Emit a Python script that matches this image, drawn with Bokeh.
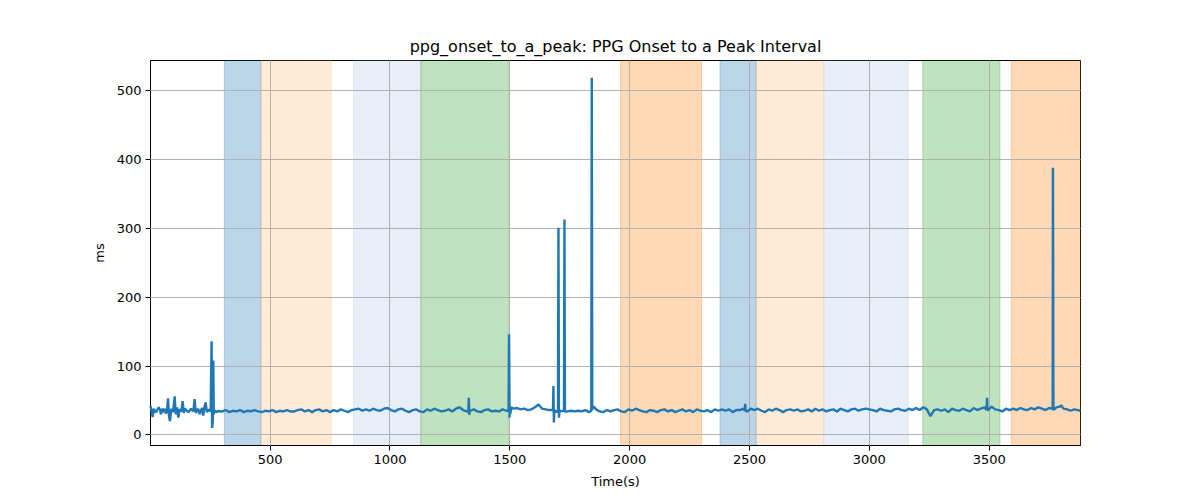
import numpy as np
from bokeh.plotting import figure
from bokeh.models import Range1d, FixedTicker
from bokeh.embed import file_html
from bokeh.resources import INLINE

# ---- data ----
title_text = "ppg_onset_to_a_peak: PPG Onset to a Peak Interval"
x_label = "Time(s)"
y_label = "ms"
x_ticks = [500, 1000, 1500, 2000, 2500, 3000, 3500]
y_ticks = [0, 100, 200, 300, 400, 500]

# shaded segments (start, end, colour)
band_start = [309, 462, 848, 1129, 1962, 2377, 2528, 2810, 3223, 3592]
band_end = [462, 755, 1129, 1494, 2300, 2528, 2810, 3163, 3545, 3881]
band_color = ["#1f77b4", "#ffbb78", "#aec7e8", "#2ca02c", "#ff7f0e",
              "#1f77b4", "#ffbb78", "#aec7e8", "#2ca02c", "#ff7f0e"]

# early noisy segment
early_t = [1, 5, 10, 15, 20, 25, 30, 35, 40, 45, 50, 55, 60, 65, 70, 74, 78, 82, 88,
           95, 102, 106, 112, 117, 122, 130, 135, 140, 145, 150, 160, 170, 180, 185,
           190, 200, 206, 210, 216, 221, 226, 231, 236, 245, 252, 256, 258, 261, 263,
           265, 270, 278, 285, 292]
early_v = [42, 36, 26, 38, 34, 33, 37, 40, 37, 30, 38, 33, 38, 31, 34, 53, 28, 20, 38,
           33, 56, 30, 40, 25, 37, 34, 49, 32, 38, 36, 33, 38, 34, 52,
           32, 38, 30, 34, 39, 28, 40, 47, 33, 37, 34, 136, 10, 20, 108,
           30, 35, 33, 35, 34]

# baseline every 15 s from 300 s to 3870 s
base_start = 300
base_step = 15
base_v = [
    34, 36, 33, 35, 34, 36, 33, 35, 34, 36, 34, 33, 35, 34, 36, 33, 35, 34, 36, 34,
    34, 36, 37, 34, 36, 33, 36, 37, 34, 36, 33, 36, 34, 37, 35, 33, 36, 37, 38, 35,
    37, 35, 38, 36, 35, 38, 39, 36, 34, 37, 38, 35, 33, 36, 37, 34, 33, 37, 35, 38,
    36, 34, 35, 37, 34, 38, 40, 36, 34, 35, 37, 34, 33, 36, 37, 34, 35, 34, 37, 35,
    34, 38, 39, 37, 38, 36, 37, 40, 44, 38, 37, 36, 36, 33, 34, 35, 34, 35, 34, 35,
    34, 36, 33, 40, 37, 34, 33, 36, 34, 36, 37, 34, 33, 37, 35, 38, 36, 34, 33, 36,
    35, 33, 36, 37, 34, 36, 33, 35, 37, 34, 36, 33, 37, 35, 34, 36, 33, 37, 35, 37,
    35, 37, 33, 36, 36, 38, 34, 38, 36, 38, 35, 33, 37, 35, 38, 36, 33, 36, 37, 35,
    37, 34, 35, 37, 34, 38, 35, 37, 34, 36, 37, 34, 38, 36, 34, 37, 38, 35, 37, 38,
    37, 36, 34, 38, 36, 35, 34, 37, 38, 36, 35, 38, 36, 39, 36, 40, 37, 27, 36, 37,
    35, 37, 33, 38, 36, 35, 38, 36, 34, 39, 36, 38, 40, 36, 41, 37, 36, 34, 38, 36,
    38, 36, 39, 37, 36, 39, 37, 40, 38, 36, 39, 36, 40, 41, 38, 37, 35, 37, 36,
]

# spikes / events
spike_t = [1327, 1329, 1331, 1333,
           1495, 1497, 1499, 1502, 1506,
           1680, 1682, 1684, 1686,
           1701, 1703, 1705, 1707,
           1726, 1728, 1730,
           1840, 1842, 1844, 1850,
           2480, 2482, 2484,
           3489, 3491, 3493,
           3764, 3766, 3768,
           3800, 3881]
spike_v = [34, 54, 29, 35,
           35, 146, 25, 30, 40,
           36, 71, 18, 36,
           35, 301, 25, 36,
           35, 313, 34,
           35, 519, 36, 41,
           35, 45, 35,
           36, 54, 36,
           38, 388, 36,
           43, 35]

# ---- assemble series ----
base_t = [base_start + base_step * i for i in range(len(base_v))]
all_t = np.array(early_t + base_t + spike_t, dtype=float)
all_v = np.array(early_v + base_v + spike_v, dtype=float)
order = np.argsort(all_t, kind="stable")
t = all_t[order]
v = all_v[order]

# ---- figure ----
p = figure(width=1195, height=496, output_backend="svg", toolbar_location=None,
           x_range=Range1d(1, 3881), y_range=Range1d(-15.5, 544),
           min_border_left=150, min_border_right=115, min_border_top=60,
           min_border_bottom=51, title=title_text)

p.title.text_font = "DejaVu Sans"
p.title.text_font_size = "16px"
p.title.text_font_style = "normal"
p.title.align = "center"
p.title.text_color = "black"

for s, e, c in zip(band_start, band_end, band_color):
    p.quad(left=s, right=e, bottom=-1000, top=2000, fill_color=c, fill_alpha=0.3,
           line_color=c, line_alpha=0.3, line_width=1)

p.line(t, v, line_color="#1f77b4", line_width=2.4, level="overlay")

for ax in (p.xaxis[0], p.yaxis[0]):
    ax.axis_line_color = "black"
    ax.major_tick_line_color = "black"
    ax.major_tick_out = 5
    ax.major_tick_in = 0
    ax.minor_tick_line_color = None
    ax.major_label_text_font = "DejaVu Sans"
    ax.major_label_text_font_size = "13px"
    ax.major_label_text_color = "black"
    ax.axis_label_text_font = "DejaVu Sans"
    ax.axis_label_text_font_size = "13px"
    ax.axis_label_text_font_style = "normal"
    ax.axis_label_text_color = "black"

p.xaxis[0].ticker = FixedTicker(ticks=x_ticks)
p.yaxis[0].ticker = FixedTicker(ticks=y_ticks)
p.xaxis.axis_label = x_label
p.yaxis.axis_label = y_label
p.xaxis.axis_label_standoff = 7
p.yaxis.axis_label_standoff = 7
p.xaxis.major_label_standoff = 4
p.yaxis.major_label_standoff = 4

for g in (p.xgrid[0], p.ygrid[0]):
    g.grid_line_color = "#b0b0b0"
    g.grid_line_width = 1
    g.level = "annotation"
p.xgrid[0].ticker = FixedTicker(ticks=x_ticks)
p.ygrid[0].ticker = FixedTicker(ticks=y_ticks)

p.outline_line_color = "black"
p.outline_line_alpha = 1
p.outline_line_width = 1
p.background_fill_color = "white"
p.border_fill_color = "white"

open("out.html", "w").write(file_html(p, INLINE))
